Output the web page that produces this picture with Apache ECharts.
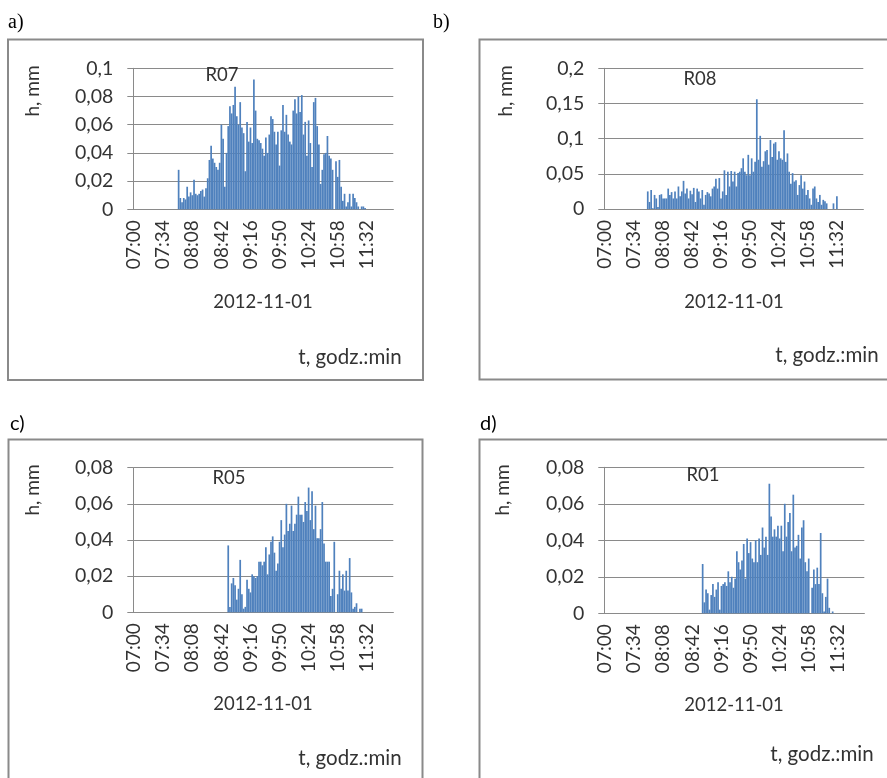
<!DOCTYPE html>
<html><head><meta charset="utf-8">
<script src="https://cdn.jsdelivr.net/npm/echarts@6/dist/echarts.min.js"></script>
<style>html,body{margin:0;padding:0;background:#fff}#c{width:887px;height:778px}</style>
</head><body><div id="c"></div>
<script>
// ---- categories: 2-minute steps, 07:00 .. 12:02 ----
const catStartMin = 7 * 60;
const catStepMin = 2;
const catCount = 152;
const labelEvery = 16; // shows 07:00, 07:34, 08:08 ...
const dateLabel = '2012-11-01';

// ---- y-axis ticks per panel ----
const yTicksA = {max: 0.1, step: 0.02};
const yTicksB = {max: 0.2, step: 0.05};
const yTicksC = {max: 0.08, step: 0.02};
const yTicksD = {max: 0.08, step: 0.02};

// ---- series values (h, mm), first value at the given start time ----
const r07Start = '07:52';
const r07 = [0.028,0.008,0.005,0.008,0.007,0.016,0.009,0.012,0.010,0.021,
 0.011,0.010,0.011,0.013,0.014,0.009,0.015,0.022,0.035,0.045,
 0.036,0.033,0.030,0.028,0.033,0.060,0.050,0.016,0.040,0.059,
 0.073,0.068,0.074,0.087,0.066,0.060,0.076,0.058,0.054,0.027,
 0.062,0.048,0.058,0.047,0.092,0.070,0.050,0.049,0.047,0.043,
 0.038,0.051,0.040,0.053,0.066,0.064,0.055,0.046,0.055,0.031,
 0.056,0.074,0.055,0.067,0.053,0.048,0.046,0.070,0.078,0.068,
 0.080,0.069,0.081,0.053,0.062,0.038,0.063,0.047,0.030,0.076,
 0.079,0.059,0.046,0.018,0.028,0.039,0.040,0.052,0.038,0.036,
 0.028,0.000,0.034,0.023,0.035,0.016,0.006,0.011,0.002,0.005,
 0.011,0.002,0.011,0.008,0.005,0.002,0.000,0.002,0.002,0.001];

const r08Start = '07:50';
const r08 = [0.025,0.010,0.027,0.001,0.020,0.015,0.003,0.020,0.021,0.015,
 0.015,0.015,0.029,0.020,0.024,0.015,0.025,0.015,0.032,0.018,
 0.025,0.040,0.022,0.029,0.015,0.026,0.021,0.030,0.010,0.029,
 0.025,0.015,0.027,0.006,0.020,0.024,0.022,0.018,0.029,0.032,
 0.043,0.029,0.044,0.015,0.025,0.055,0.020,0.053,0.032,0.054,
 0.039,0.053,0.032,0.051,0.053,0.058,0.072,0.053,0.048,0.077,
 0.048,0.072,0.053,0.067,0.156,0.070,0.104,0.060,0.068,0.082,
 0.084,0.063,0.098,0.074,0.093,0.095,0.070,0.082,0.072,0.070,
 0.112,0.067,0.079,0.053,0.036,0.051,0.039,0.041,0.020,0.034,
 0.048,0.029,0.039,0.020,0.027,0.015,0.006,0.029,0.032,0.015,
 0.010,0.020,0.006,0.013,0.011,0.008,0.000,0.000,0.000,0.008,
 0.000,0.018];

const r05Start = '08:50';
const r05 = [0.037,0.003,0.016,0.019,0.015,0.007,0.013,0.029,0.010,0.002,
 0.003,0.018,0.013,0.011,0.021,0.020,0.019,0.020,0.028,0.028,
 0.026,0.028,0.036,0.021,0.032,0.039,0.042,0.033,0.023,0.027,
 0.039,0.051,0.036,0.043,0.060,0.045,0.049,0.059,0.045,0.049,
 0.054,0.064,0.054,0.054,0.050,0.061,0.056,0.069,0.051,0.067,
 0.046,0.059,0.041,0.041,0.046,0.061,0.038,0.028,0.028,0.028,
 0.009,0.013,0.039,0.000,0.010,0.023,0.013,0.021,0.012,0.023,
 0.012,0.030,0.011,0.002,0.003,0.005,0.000,0.002,0.002];

const r01Start = '08:54';
const r01 = [0.027,0.006,0.013,0.011,0.002,0.010,0.016,0.009,0.013,0.017,
 0.002,0.015,0.016,0.017,0.015,0.023,0.017,0.020,0.014,0.019,
 0.034,0.028,0.024,0.029,0.038,0.019,0.041,0.033,0.039,0.030,
 0.028,0.040,0.028,0.041,0.032,0.047,0.036,0.042,0.032,0.071,
 0.053,0.042,0.046,0.042,0.048,0.041,0.048,0.034,0.060,0.042,
 0.050,0.055,0.034,0.065,0.036,0.037,0.043,0.030,0.047,0.051,
 0.028,0.023,0.030,0.000,0.014,0.024,0.016,0.025,0.016,0.044,
 0.011,0.001,0.009,0.019,0.003,0.000,0.001];

// ---- build ----
function fmtT(m){const h=Math.floor(m/60),mm=m%60;return (h<10?'0':'')+h+':'+(mm<10?'0':'')+mm;}
const categories=[];
for(let i=0;i<catCount;i++) categories.push(fmtT(catStartMin+i*catStepMin));
function place(start, vals){
  const out=new Array(catCount).fill(0);
  const s=categories.indexOf(start);
  vals.forEach((v,i)=>{ if(s+i<catCount) out[s+i]=v; });
  return out;
}
const FONT='Lato, "Open Sans", sans-serif';
const TXT='#333333';
const GRAY='#8a8a8a';
const BLUE='#4F81BD';

const panels=[
  {name:'R07', vals:place(r07Start,r07), y:yTicksA, grid:{left:133.3,top:68.3,width:260,height:141}},
  {name:'R08', vals:place(r08Start,r08), y:yTicksB, grid:{left:604.3,top:68.3,width:259,height:140.7}},
  {name:'R05', vals:place(r05Start,r05), y:yTicksC, grid:{left:133.3,top:467.7,width:260,height:144.6}},
  {name:'R01', vals:place(r01Start,r01), y:yTicksD, grid:{left:604.3,top:467.3,width:260,height:146}}
];
function yFmt(v){ if(v===0) return '0'; return String(+v.toFixed(3)).replace('.',','); }

const grids=[],xAxes=[],yAxes=[],series=[];
panels.forEach((p,i)=>{
  grids.push(Object.assign({containLabel:false},p.grid));
  xAxes.push({type:'category',gridIndex:i,data:categories,boundaryGap:true,
    axisLine:{show:true,lineStyle:{color:GRAY,width:1}},
    axisTick:{show:false},
    axisLabel:{rotate:90,interval:labelEvery,margin:11,fontFamily:FONT,fontSize:19,color:TXT},
    splitLine:{show:false}});
  yAxes.push({type:'value',gridIndex:i,min:0,max:p.y.max,interval:p.y.step,
    axisLine:{show:true,lineStyle:{color:GRAY,width:1}},
    axisTick:{show:true,length:6,lineStyle:{color:GRAY}},
    splitLine:{show:true,lineStyle:{color:GRAY,width:1}},
    axisLabel:{formatter:yFmt,margin:20,fontFamily:FONT,fontSize:19.5,color:TXT}});
  series.push({type:'bar',name:p.name,xAxisIndex:i,yAxisIndex:i,data:p.vals,
    barCategoryGap:'0%',itemStyle:{color:BLUE},silent:true,animation:false});
});

function txt(x,y,t,opt){
  opt=opt||{};
  return {type:'text',x:x,y:y,rotation:opt.rot||0,z:10,
    style:{text:t,font:(opt.font||('18.5px '+FONT)),fill:opt.fill||TXT,
      align:opt.align||'center',verticalAlign:'middle',
      textAlign:opt.align||'center',textVerticalAlign:'middle'}};
}
function box(x,y,w,h){return {type:'rect',z:-1,shape:{x:x,y:y,width:w,height:h},style:{fill:'none',stroke:GRAY,lineWidth:2}};}
const unitFont='20.5px '+FONT;

const graphics=[
  box(8,39.5,415,340.5), box(479.5,39.5,430,340), box(8.5,439.5,414,360), box(479.5,439.5,430,360),
  txt(8,23,'a)',{align:'left',font:'20px "Liberation Serif", serif',fill:'#000'}),
  txt(433,23,'b)',{align:'left',font:'20px "Liberation Serif", serif',fill:'#000'}),
  txt(10,424,'c)',{align:'left',font:'20px '+FONT,fill:'#000'}),
  txt(480,424,'d)',{align:'left',font:'20px '+FONT,fill:'#000'}),
  txt(33,91,'h, mm',{rot:Math.PI/2,font:'19px '+FONT}), txt(506,91,'h, mm',{rot:Math.PI/2,font:'19px '+FONT}),
  txt(33,490,'h, mm',{rot:Math.PI/2,font:'19px '+FONT}), txt(503,490,'h, mm',{rot:Math.PI/2,font:'19px '+FONT}),
  txt(222,75,panels[0].name), txt(700,79,panels[1].name), txt(229,478,panels[2].name), txt(703,475,panels[3].name),
  txt(263,302,dateLabel), txt(734,302,dateLabel), txt(263,704,dateLabel), txt(734,705,dateLabel),
  txt(350,357,'t, godz.:min',{font:unitFont}), txt(827,355,'t, godz.:min',{font:unitFont}),
  txt(350,758,'t, godz.:min',{font:unitFont}), txt(822,754,'t, godz.:min',{font:unitFont})
];

const chart=echarts.init(document.getElementById('c'),null,{renderer:'canvas'});
chart.setOption({animation:false,backgroundColor:'#fff',grid:grids,xAxis:xAxes,yAxis:yAxes,series:series,graphic:graphics});
</script></body></html>
